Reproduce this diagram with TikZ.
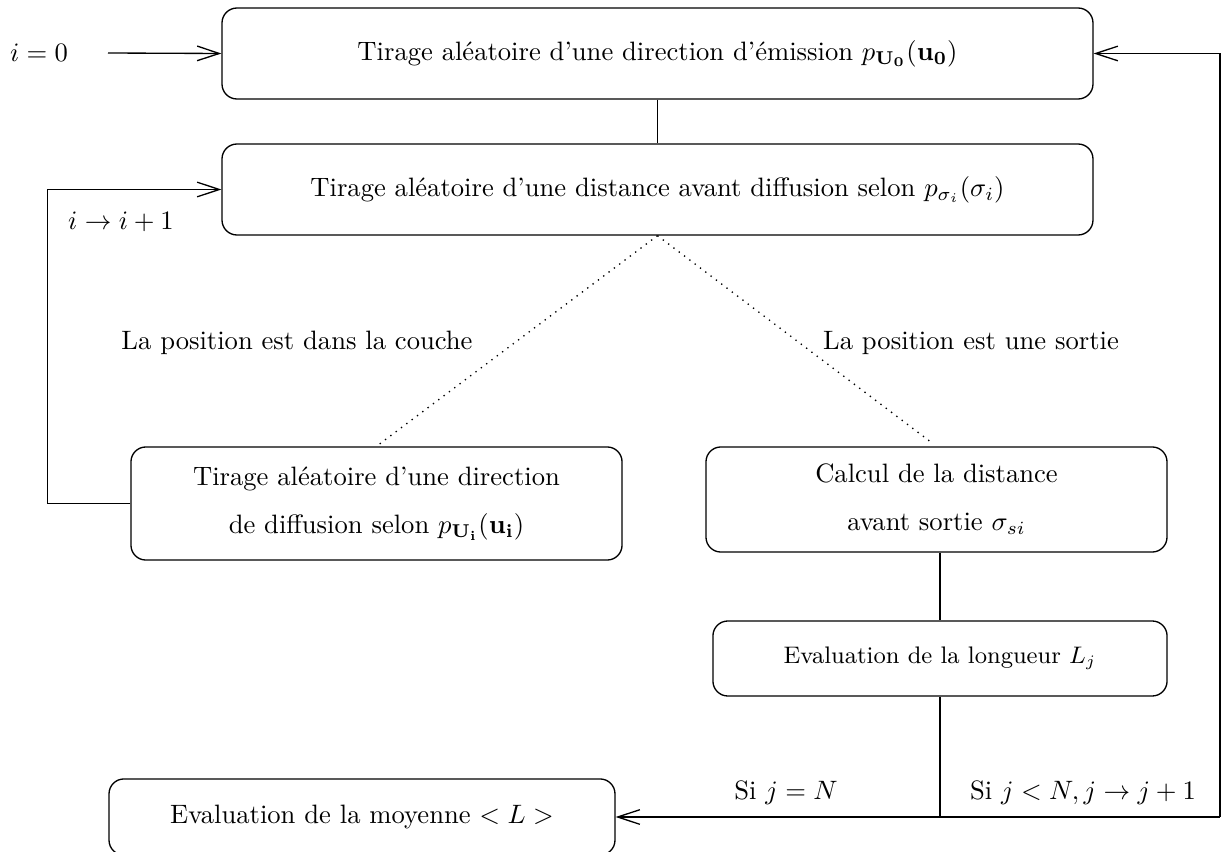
\documentclass[tikz,border=0pt]{standalone}
\usepackage{amsmath}
\usetikzlibrary{arrows.meta}

\begin{document}
\begin{tikzpicture}[x=0.3759pt,y=-0.3759pt,
    etape/.style={draw,line width=0.5pt,rounded corners=5.6pt,align=center,inner sep=0pt},
    fleche/.style={line width=0.5pt,-{Straight Barb[length=8.3pt,width=5.5pt]}},
    lien/.style={line width=0.5pt}]
    \useasboundingbox (0,0) rectangle (1223,852);%

    % Drawing the steps
    \node[etape,minimum width=327.4pt,minimum height=34.2pt] (emission) at (657.5,53.5) {Tirage aléatoire d'une direction d'émission $p_{\mathbf{U_0}}(\mathbf{u_0})$};%
    \node[etape,minimum width=327.4pt,minimum height=34.2pt] (distance) at (657.5,189.5) {Tirage aléatoire d'une distance avant diffusion selon $p_{\sigma_i}(\sigma_i)$};%
    \node[etape,minimum width=184.6pt,minimum height=42.5pt] (diffusion) at (376.5,503.5) {Tirage aléatoire d'une direction\\[6pt] de diffusion selon $p_{\mathbf{U_i}}(\mathbf{u_i})$};%
    \node[etape,minimum width=173.3pt,minimum height=39.5pt] (sortie) at (936.5,499.5) {Calcul de la distance\\[6pt] avant sortie $\sigma_{si}$};%
    \node[etape,minimum width=170.7pt,minimum height=28.2pt,font=\small] (longueur) at (940,658.5) {Evaluation de la longueur $L_j$};%
    \node[etape,minimum width=190.2pt,minimum height=28.6pt] (moyenne) at (362,817) {Evaluation de la moyenne $< L >$};%

    % Marking the labels
    \node (izero) at (39,53) {$i=0$};%
    \node (increment) at (121,222) {$i \rightarrow i+1$};%
    \node (couche) at (297,343) {La position est dans la couche};%
    \node (sortant) at (971,343) {La position est une sortie};%
    \node (fin) at (786,793) {Si $j=N$};%
    \node (suite) at (1083,793) {Si $j<N, j \rightarrow j+1$};%

    % Drawing the links
    \coordinate (depart) at (108,53);%
    \coordinate (retour) at (1220,817);%
    \draw[fleche] (depart) -- (emission.west);%
    \draw[lien] (emission.south) -- (distance.north);%
    \draw[lien,dotted,shorten >=1.5pt] (distance.south) -- (diffusion.north);%
    \draw[lien,dotted,shorten >=1.5pt] (distance.south) -- (sortie.north);%
    \draw[fleche] (diffusion.west) -- ++(-83,0) |- (distance.west);%
    \draw[lien] (sortie.south -| longueur.north) -- (longueur.north);%
    \draw[lien] (longueur.south) -- (longueur.south |- retour);%
    \draw[fleche] (retour) -- (moyenne.east);%
    \draw[fleche] (retour) |- (emission.east);%
\end{tikzpicture}
\end{document}
